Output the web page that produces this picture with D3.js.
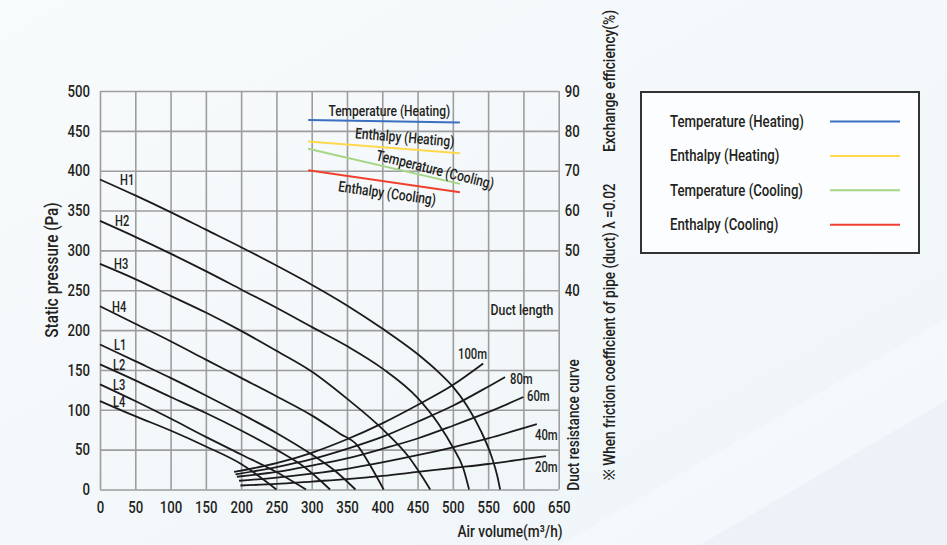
<!DOCTYPE html>
<html>
<head>
<meta charset="utf-8">
<script src="https://cdn.jsdelivr.net/npm/d3@7"></script>
<style>
  html, body { margin: 0; padding: 0; background: #f3f8fb; }
  svg { display: block; }
  text { fill: #231f20; font-weight: 500; }
</style>
</head>
<body>
<svg id="chart" width="947" height="545"></svg>
<script>
// ---------------------------------------------------------------------------
// Data
// ---------------------------------------------------------------------------

// axis ticks
const xTicks = [0, 50, 100, 150, 200, 250, 300, 350, 400, 450, 500, 550, 600, 650];
const yTicks = [0, 50, 100, 150, 200, 250, 300, 350, 400, 450, 500];
const effTicks = [40, 50, 60, 70, 80, 90];

// fan curves: [air volume m3/h, static pressure Pa]
const H1 = [[0, 389], [50, 369], [100, 348], [150, 326], [200, 304], [250, 281], [300, 257], [350, 231], [400, 202], [450, 170], [480, 147], [500, 129], [520, 105], [540, 73], [555, 41], [563, 17], [567, 0]];
const H2 = [[0, 337], [50, 317], [100, 296], [150, 274], [200, 251], [250, 228], [300, 204], [350, 180], [400, 152], [450, 115], [480, 82], [500, 53], [515, 26], [523, 0]];
const H3 = [[0, 283], [50, 264], [100, 243], [150, 222], [200, 199], [250, 174], [300, 148], [350, 114], [400, 76], [440, 38], [456, 17], [468, 0]];
const H4 = [[0, 230], [50, 208], [100, 186], [150, 163], [200, 140], [250, 117], [300, 93], [340, 70], [364, 56], [385, 27], [402, 0]];
const L1 = [[0, 182], [50, 161], [100, 140], [150, 118], [200, 95], [250, 71], [300, 44], [335, 22], [362, 0]];
const L2 = [[0, 157], [50, 137], [100, 116], [150, 96], [200, 74], [250, 50], [290, 28], [326, 0]];
const L3 = [[0, 132], [50, 111], [100, 89], [150, 66], [200, 44], [250, 22], [292, 0]];
const L4 = [[0, 111], [50, 92], [100, 74], [150, 54], [200, 32], [250, 0]];
const fanNames = ["H1", "H2", "H3", "H4", "L1", "L2", "L3", "L4"];
const fanCurves = [H1, H2, H3, H4, L1, L2, L3, L4];

// duct resistance curves
const duct100 = [[190, 22], [250, 33], [300, 46], [350, 63], [400, 83], [450, 106], [500, 131], [543, 158]];
const duct80 = [[192, 19], [250, 28], [300, 38], [350, 51], [400, 66], [450, 85], [500, 105], [550, 129], [574, 141]];
const duct60 = [[194, 16], [250, 22], [300, 30], [350, 39], [400, 51], [450, 64], [500, 80], [550, 97], [600, 116]];
const duct40 = [[197, 11], [250, 15], [300, 20], [350, 26], [400, 34], [450, 43], [500, 53], [550, 64], [600, 77], [619, 82]];
const duct20 = [[199, 5], [250, 7], [300, 10], [350, 13], [400, 17], [450, 22], [500, 27], [550, 32], [600, 38], [632, 42]];
const ductNames = ["100m", "80m", "60m", "40m", "20m"];
const ductCurves = [duct100, duct80, duct60, duct40, duct20];

// exchange efficiency (%)
const effNames = ["Temperature (Heating)", "Enthalpy (Heating)", "Temperature (Cooling)", "Enthalpy (Cooling)"];
const effColors = ["#3b6fc0", "#ffd84c", "#a5d686", "#f0412f"];
const effLines = [
  [[295, 82.7], [510, 82.1]],
  [[295, 77.3], [510, 74.4]],
  [[295, 75.5], [510, 66.7]],
  [[295, 70.1], [510, 64.6]],
];

// ---------------------------------------------------------------------------
// Setup
// ---------------------------------------------------------------------------

const FONT = "Roboto, 'Noto Sans', sans-serif";
const svg = d3.select("#chart").style("font-family", FONT);

// condensed text: the reference uses a narrow DIN-like face, squeeze Roboto
function label(parent, str, o) {
  const t = parent.append("text")
    .attr("transform", `translate(${o.x},${o.y}) rotate(${o.rot || 0}) scale(${o.sx || 0.8},1)`)
    .attr("font-size", o.size)
    .attr("text-anchor", o.anchor || "start")
    .text(str);
  if (o.baseline) t.attr("dominant-baseline", o.baseline);
  return t;
}

// background
const defs = svg.append("defs");
const bg = defs.append("linearGradient").attr("id", "bg")
  .attr("x1", "0").attr("y1", "0").attr("x2", "1").attr("y2", "1");
bg.append("stop").attr("offset", "0%").attr("stop-color", "#f8fbfc");
bg.append("stop").attr("offset", "100%").attr("stop-color", "#eef4f8");
svg.append("rect").attr("width", 947).attr("height", 545).attr("fill", "url(#bg)");
svg.append("polygon")
  .attr("points", "560,545 947,318 947,545")
  .attr("fill", "#ffffff").attr("opacity", 0.35);
svg.append("polygon")
  .attr("points", "700,545 947,400 947,545")
  .attr("fill", "#e2ecf4").attr("opacity", 0.45);

const x = d3.scaleLinear().domain([0, 650]).range([100, 558.7]);
const y = d3.scaleLinear().domain([0, 500]).range([489.5, 91]);
const yE = d3.scaleLinear().domain([40, 90]).range([y(250), y(500)]);

const GRID = "#9d9d9d";

// grid + left axis
const gy = svg.append("g")
  .attr("transform", `translate(${x(0)},0)`)
  .call(d3.axisLeft(y).tickValues(yTicks).tickSize(-(x(650) - x(0))).tickPadding(10));
// grid + bottom axis
const gx = svg.append("g")
  .attr("transform", `translate(0,${y(0)})`)
  .call(d3.axisBottom(x).tickValues(xTicks).tickSize(-(y(0) - y(500))).tickPadding(12));
// right axis (efficiency)
const ge = svg.append("g")
  .attr("transform", `translate(${x(650)},0)`)
  .call(d3.axisRight(yE).tickValues(effTicks).tickSize(0).tickPadding(6));

[gx, gy, ge].forEach((g) => {
  g.select(".domain").remove();
  g.selectAll(".tick line").attr("stroke", GRID).attr("stroke-width", 1.6);
  g.selectAll(".tick text").each(function () {
    const t = d3.select(this);
    const tx = +t.attr("x") || 0;
    const ty = +t.attr("y") || 0;
    t.attr("x", 0).attr("y", 0)
      .attr("transform", `translate(${tx},${ty}) scale(0.8,1)`)
      .attr("font-family", FONT)
      .attr("font-size", 16.5)
      .attr("fill", "#231f20");
  });
});

// ---------------------------------------------------------------------------
// Curves
// ---------------------------------------------------------------------------

const line = d3.line().x((d) => x(d[0])).y((d) => y(d[1])).curve(d3.curveMonotoneX);

const curveG = svg.append("g")
  .attr("fill", "none")
  .attr("stroke", "#1b1b1b")
  .attr("stroke-width", 1.8);

fanCurves.forEach((c) => curveG.append("path").attr("d", line(c)));
ductCurves.forEach((c) => curveG.append("path").attr("d", line(c)));

// fan labels, just above the start of each curve
const fanLabelX = [120, 115, 114, 112, 114, 113, 113, 113];
fanNames.forEach((n, i) => {
  label(svg, n, { x: fanLabelX[i], y: y(fanCurves[i][0][1]) + 5.5, size: 15.5, sx: 0.72 });
});

// duct labels
const ductLabelPos = [[458, 359], [510, 384], [527, 401], [535, 440], [535, 472]];
ductNames.forEach((n, i) => {
  label(svg, n, { x: ductLabelPos[i][0], y: ductLabelPos[i][1], size: 14.5, sx: 0.78 });
});

label(svg, "Duct length", { x: 522, y: 315, size: 15, sx: 0.82, anchor: "middle" });

// efficiency lines
const effLine = d3.line().x((d) => x(d[0])).y((d) => yE(d[1]));
effLines.forEach((c, i) => {
  svg.append("path")
    .attr("d", effLine(c))
    .attr("fill", "none")
    .attr("stroke", effColors[i])
    .attr("stroke-width", 2);
});

// in-plot efficiency labels: [x value along line, pixel offset, rotation]
const effLabelPos = [[410, -11, 0], [432, -12, 5], [475, -9, 14], [407, 11, 8]];
effLabelPos.forEach(([xv, dy, rot], i) => {
  const c = effLines[i];
  const t = (xv - c[0][0]) / (c[1][0] - c[0][0]);
  const ev = c[0][1] + t * (c[1][1] - c[0][1]);
  label(svg, effNames[i], {
    x: x(xv), y: yE(ev) + dy, rot, size: 15, sx: 0.8,
    anchor: "middle", baseline: "central",
  });
});

// ---------------------------------------------------------------------------
// Axis titles
// ---------------------------------------------------------------------------

label(svg, "Static pressure (Pa)", { x: 58, y: 270, rot: -90, size: 18, sx: 0.85, anchor: "middle" });
label(svg, "Air volume(m³/h)", { x: 510, y: 537, size: 16.5, sx: 0.83, anchor: "middle" });
label(svg, "Exchange efficiency(%)", { x: 615, y: 81, rot: -90, size: 17, sx: 0.81, anchor: "middle" });
label(svg, "Duct resistance curve", { x: 579, y: 425, rot: -90, size: 17, sx: 0.8, anchor: "middle" });
label(svg, "※ When friction coefficient of pipe (duct)   λ  =0.02", {
  x: 615, y: 332, rot: -90, size: 17, sx: 0.8, anchor: "middle",
});

// ---------------------------------------------------------------------------
// Legend
// ---------------------------------------------------------------------------

const legend = svg.append("g");
legend.append("rect")
  .attr("x", 641).attr("y", 92)
  .attr("width", 278).attr("height", 161)
  .attr("fill", "#fbfdfe")
  .attr("stroke", "#333")
  .attr("stroke-width", 2);

effNames.forEach((n, i) => {
  const cy = 121.5 + i * 34.4;
  label(legend, n, { x: 670, y: cy + 5.5, size: 16.5, sx: 0.8 });
  legend.append("line")
    .attr("x1", 830).attr("x2", 900)
    .attr("y1", cy).attr("y2", cy)
    .attr("stroke", effColors[i])
    .attr("stroke-width", 2);
});
</script>
</body>
</html>
